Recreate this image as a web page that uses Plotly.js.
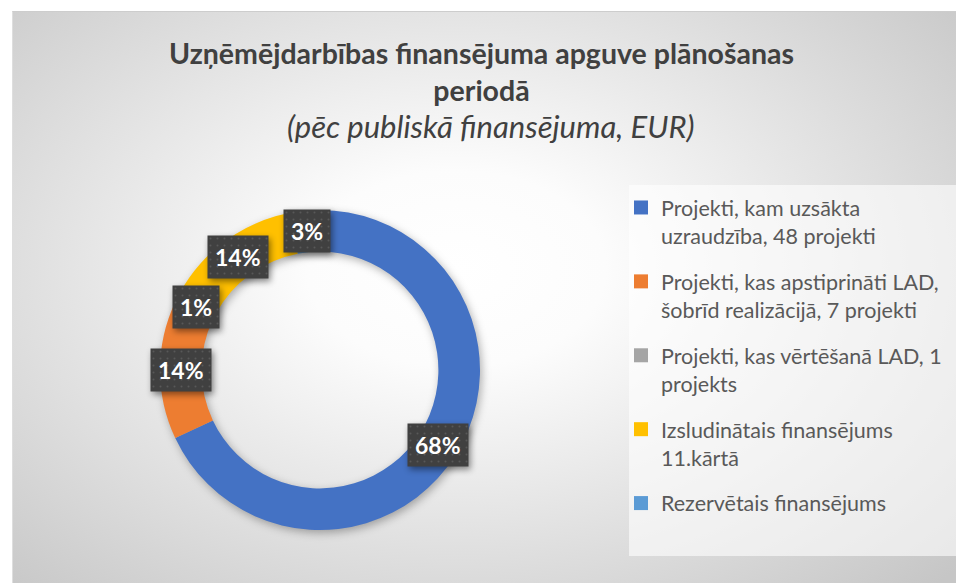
<!DOCTYPE html>
<html><head><meta charset="utf-8">
<script src="https://cdn.plot.ly/plotly-3.0.1.min.js"></script>
<style>
html,body{margin:0;padding:0;background:#fff;}
#wrap{position:relative;width:956px;height:583px;overflow:hidden;}
#bg{position:absolute;left:12px;top:11px;width:944px;height:572px;border-top:1px solid #cdcdcd;border-left:1px solid #dedede;box-sizing:border-box;
background: radial-gradient(ellipse 72% 78% at 47% 45%, #ffffff 0%, #fcfcfc 22%, #c6c6c6 100%);}
#chart{position:absolute;left:0;top:0;width:956px;height:583px;}
.pielayer .trace{filter:drop-shadow(2px 3px 4px rgba(0,0,0,0.30));}
.annotation rect.bg[style*="rgb(64, 64, 64)"]{fill:url(#dots) !important;filter:drop-shadow(2px 3px 3px rgba(0,0,0,0.45));}
</style>
</head><body>
<svg width="0" height="0" style="position:absolute"><defs>
<pattern id="dots" width="7" height="7" patternUnits="userSpaceOnUse">
<rect width="7" height="7" fill="#404040"/><circle cx="3.5" cy="3.5" r="1" fill="#585858"/>
</pattern></defs></svg>
<div id="wrap"><div id="bg"></div><div id="chart"></div></div>
<script>
// ---- data ----
const categories = [
  'Projekti, kam uzsākta<br>uzraudzība, 48 projekti',
  'Projekti, kas apstiprināti LAD,<br>šobrīd realizācijā, 7 projekti',
  'Projekti, kas vērtēšanā LAD, 1<br>projekts',
  'Izsludinātais finansējums<br>11.kārtā',
  'Rezervētais finansējums'
];
const shares = [68, 14, 1, 14, 3];
const colors = ['#4472C4', '#ED7D31', '#A5A5A5', '#FFC000', '#5B9BD5'];
const titleText = 'Uzņēmējdarbības finansējuma apguve plānošanas<br>periodā';
const subtitleText = '(pēc publiskā finansējuma, EUR)';

// ---- layout constants ----
const W = 956, H = 583;
const CX = 320, CY = 370, R = 160, HOLE = 0.74;
const domX = [(CX - R) / W, (CX + R) / W];
const domY = [(H - (CY + R)) / H, (H - (CY - R)) / H];

const pie = {
  type: 'pie', values: shares, labels: categories, sort: false,
  direction: 'clockwise', rotation: 0, hole: HOLE,
  marker: {colors: colors, line: {width: 0}},
  textinfo: 'none', hoverinfo: 'skip', showlegend: false,
  domain: {x: domX, y: domY}
};

const legendTraces = categories.map((c, i) => ({
  type: 'scatter', mode: 'markers', x: [null], y: [null], name: c,
  legendgroup: 'g' + i, showlegend: true,
  marker: {symbol: 'square', size: 14, color: colors[i]}
}));

// data labels at slice mid-angles, mid-ring
const total = shares.reduce((a, b) => a + b, 0);
const rMid = R * (1 + HOLE) / 2;
let cum = 0;
const labelAnns = shares.map(v => {
  const a = (cum + v / 2) / total * 2 * Math.PI;
  cum += v;
  const px = CX + rMid * Math.sin(a), py = CY - rMid * Math.cos(a);
  return {
    xref: 'paper', yref: 'paper', x: px / W, y: 1 - py / H,
    xanchor: 'center', yanchor: 'middle', showarrow: false,
    text: '<b>' + Math.round(v / total * 100) + '%</b>',
    bgcolor: '#404040', borderpad: 7,
    font: {family: 'Lato', size: 23, color: '#ffffff'}
  };
});

const layout = {
  width: W, height: H,
  margin: {l: 0, r: 0, t: 0, b: 0, autoexpand: false},
  paper_bgcolor: 'rgba(0,0,0,0)', plot_bgcolor: 'rgba(0,0,0,0)',
  title: {
    text: titleText, x: 481.5 / W, xanchor: 'center', xref: 'container',
    y: 1 - 64 / H, yanchor: 'top', yref: 'container',
    font: {family: 'Lato', size: 28.5, color: '#404040', weight: 700}
  },
  xaxis: {visible: false}, yaxis: {visible: false},
  showlegend: true,
  legend: {
    x: 621 / W, xanchor: 'left', y: 1 - 187 / H, yanchor: 'top',
    bgcolor: 'rgba(0,0,0,0)', valign: 'top', traceorder: 'grouped',
    tracegroupgap: 15,
    font: {family: 'Lato', size: 21.5, color: '#595959'}
  },
  shapes: [{
    type: 'rect', xref: 'paper', yref: 'paper', layer: 'below',
    x0: 629 / W, x1: 1, y0: 1 - 556 / H, y1: 1 - 185 / H,
    fillcolor: 'rgba(255,255,255,0.6)', line: {width: 0}
  }],
  annotations: [{
    xref: 'paper', yref: 'paper', x: 490 / W, y: 1 - 126 / H,
    xanchor: 'center', yanchor: 'middle', showarrow: false,
    text: '<i>' + subtitleText + '</i>',
    font: {family: 'Lato', size: 31, color: '#404040'}
  }].concat(labelAnns)
};

Plotly.newPlot('chart', [pie].concat(legendTraces), layout, {displayModeBar: false, staticPlot: true});
</script>
</body></html>
